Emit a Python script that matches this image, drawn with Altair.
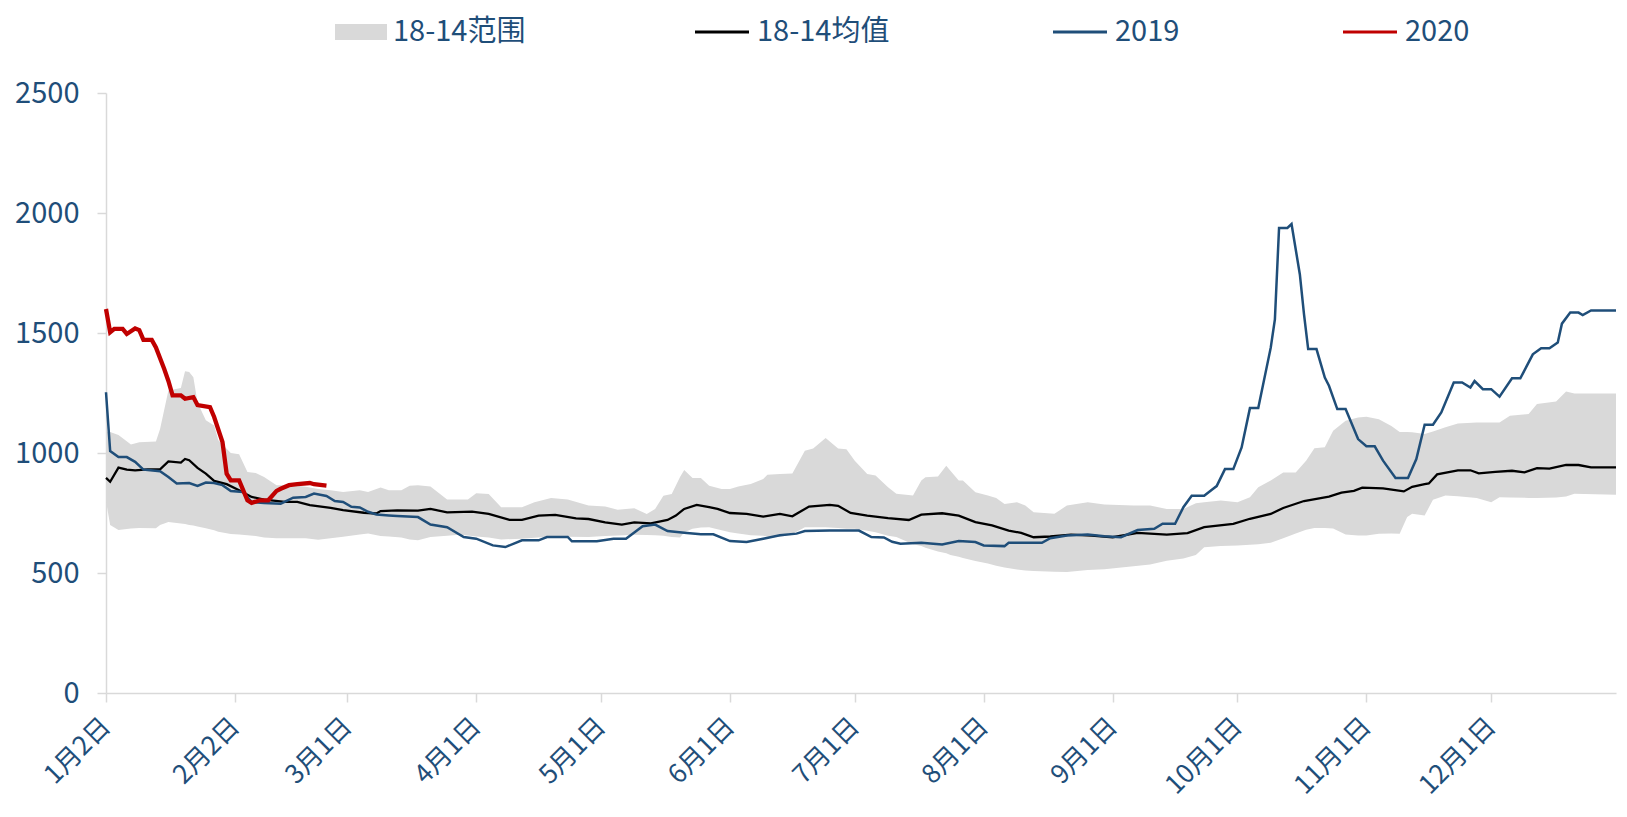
import json
import altair as alt
import pandas as pd

# ---------------- data (day offset from 1月2日) ----------------
band_days = [0, 1, 3, 6, 8, 12, 13, 15, 18, 19, 20, 21, 22, 24, 26, 27, 30, 32, 34, 36, 38, 41, 45, 48,
             51, 54, 57, 61, 63, 66, 68, 71, 73, 75, 78, 82, 85, 87, 89, 92, 95, 100, 103, 107, 111, 116,
             120, 123, 127, 130, 132, 134, 136, 138, 139, 141, 143, 145, 148, 150, 152, 155, 158, 159, 162,
             165, 168, 170, 173, 176, 178, 180, 183, 185, 188, 190, 194, 196, 197, 200, 202, 203, 205, 206,
             209, 212, 214, 216, 219, 221, 223, 228, 231, 236, 240, 247, 251, 255, 259, 262, 264, 268, 272,
             275, 277, 280, 283, 286, 288.5, 290.5, 293, 295, 298, 301, 303, 306, 309, 311, 312.8, 314, 317,
             319, 322, 325, 329.5, 333, 335, 337.5, 342, 344, 348.6, 351, 353, 363]
band_hi = [1090, 1087, 1075, 1035, 1045, 1048, 1100, 1260, 1271, 1341, 1337, 1316, 1210, 1136, 1115, 1053,
           1000, 995, 921, 917, 900, 866, 866, 859, 850, 845, 838, 845, 838, 856, 845, 845, 864, 866, 860,
           806, 806, 806, 832, 829, 774, 774, 795, 812, 806, 781, 777, 764, 770, 746, 767, 822, 829, 900,
           929, 896, 896, 864, 850, 850, 860, 871, 892, 909, 912, 915, 1009, 1019, 1062, 1019, 1016, 968,
           913, 906, 857, 830, 823, 885, 899, 902, 947, 926, 885, 885, 836, 823, 812, 788, 795, 781, 753,
           747, 781, 795, 785, 781, 781, 767, 767, 791, 795, 802, 795, 816, 857, 885, 919, 919, 968, 1020,
           1024, 1093, 1134, 1148, 1151, 1141, 1113, 1088, 1087, 1086, 1079, 1090, 1107, 1123, 1127, 1127,
           1127, 1155, 1162, 1204, 1215, 1256, 1248, 1248]
band_lo = [800, 700, 679, 685, 688, 686, 700, 712, 706, 704, 700, 698, 694, 686, 678, 672, 663, 660, 657,
           654, 648, 645, 645, 645, 639, 645, 651, 660, 665, 654, 652, 648, 640, 636, 650, 655, 659, 656,
           652, 648, 640, 643, 647, 652, 651, 650, 654, 656, 659, 658, 657, 655, 650, 648, 670, 684, 690,
           691, 678, 670, 665, 657, 655, 652, 650, 662, 691, 691, 691, 688, 684, 684, 676, 670, 655, 650,
           620, 612, 605, 590, 582, 575, 568, 562, 550, 540, 530, 523, 515, 510, 508, 505, 504, 513, 516,
           528, 535, 551, 560, 575, 607, 612, 615, 618, 620, 626, 645, 665, 680, 688, 688, 685, 660, 656,
           656, 664, 665, 664, 733, 747, 740, 805, 823, 820, 812, 795, 816, 815, 813, 813, 815, 819, 830, 826]

mean_days = [0, 1, 3, 5, 7, 10, 13, 15, 18, 19, 20, 22, 24, 26, 29, 32, 35, 38, 43, 46, 49, 54, 57, 62, 65,
             66, 70, 75, 78, 82, 88, 92, 97, 100, 104, 108, 113, 116, 120, 124, 127, 131, 135, 137, 139, 142,
             145, 147, 150, 154, 158, 162, 165, 169, 174, 176, 179, 183, 188, 193, 196, 201, 205, 209, 213,
             217, 220, 223, 227, 232, 237, 242, 248, 255, 260, 264, 271, 275, 280, 283, 288, 292, 294, 297,
             300, 302, 307, 312, 314, 317, 318, 320, 325, 328, 330, 334, 338, 341, 344, 347, 351, 354, 357, 363]
mean_vals = [896, 880, 939, 931, 928, 932, 932, 965, 960, 975, 970, 938, 914, 884, 870, 845, 817, 806, 796,
             796, 783, 771, 762, 751, 748, 758, 761, 760, 767, 753, 756, 746, 721, 721, 739, 742, 728, 725,
             711, 702, 711, 707, 721, 739, 767, 784, 774, 767, 750, 746, 735, 746, 736, 777, 784, 780, 750,
             739, 729, 721, 743, 749, 739, 712, 698, 677, 667, 649, 652, 660, 656, 649, 667, 660, 666, 691,
             705, 726, 746, 771, 800, 812, 818, 835, 842, 856, 853, 840, 859, 870, 873, 911, 928, 928, 915,
             921, 926, 919, 937, 935, 950, 950, 940, 940]

y2019_days = [0, 1, 3, 5, 7, 9, 13, 15, 17, 20, 22, 24, 26, 28, 30, 33, 35, 38, 42, 45, 48, 50, 53, 55, 57,
              59, 61, 63, 65, 68, 70, 75, 78, 82, 86, 89, 93, 96, 100, 104, 106, 111, 112, 118, 122, 125,
              129, 132, 135, 139, 143, 146, 150, 154, 158, 162, 166, 168, 174, 181, 184, 187, 189, 191, 196,
              201, 205, 209, 211, 216, 217, 225, 227, 231, 236, 240, 244, 248, 252, 254, 257, 259, 261, 264,
              266, 267, 269, 271, 273, 275, 277, 280, 281, 282, 284, 285, 287, 288, 289, 291, 293, 294, 296,
              298, 301, 303, 305, 307, 310, 313, 315, 317, 319, 321, 324, 326, 328, 329, 331, 333, 335, 338,
              340, 343, 345, 347, 349, 350, 352, 354, 355, 357, 363]
y2019_vals = [1253, 1008, 983, 983, 963, 931, 924, 900, 873, 875, 863, 877, 875, 866, 842, 838, 796, 792,
              789, 814, 817, 831, 821, 800, 796, 776, 773, 755, 744, 740, 738, 733, 702, 691, 650, 643, 615,
              608, 636, 636, 650, 650, 632, 632, 643, 643, 695, 702, 675, 668, 661, 661, 633, 629, 643, 657,
              664, 675, 677, 677, 650, 648, 630, 622, 626, 619, 633, 629, 615, 612, 626, 626, 645, 656, 660,
              653, 649, 679, 684, 705, 705, 774, 822, 822, 849, 862, 933, 933, 1023, 1187, 1187, 1439, 1557,
              1938, 1938, 1954, 1744, 1578, 1433, 1433, 1314, 1280, 1183, 1183, 1058, 1028, 1028, 968, 896,
              896, 975, 1118, 1118, 1169, 1294, 1294, 1273, 1300, 1266, 1266, 1235, 1311, 1311, 1411, 1436,
              1436, 1460, 1539, 1585, 1585, 1575, 1594, 1594]

y2020_days = [0, 1, 2, 4, 5, 7, 8, 9, 11, 12, 14, 15, 16, 18, 19, 21, 22, 25, 26, 28, 29, 30, 32, 34, 35,
              37, 39, 41, 42, 44, 46, 49, 50, 53]
y2020_vals = [1600, 1503, 1517, 1517, 1496, 1519, 1512, 1471, 1471, 1440, 1350, 1300, 1240, 1240, 1226,
              1233, 1200, 1191, 1150, 1046, 914, 886, 886, 803, 792, 803, 803, 842, 851, 866, 870, 875, 870,
              864]

tick_days = [0, 31, 58, 89, 119, 150, 180, 211, 242, 272, 303, 333]
tick_labels = ["1月2日", "2月2日", "3月1日", "4月1日", "5月1日", "6月1日", "7月1日", "8月1日",
               "9月1日", "10月1日", "11月1日", "12月1日"]
y_ticks = [0, 500, 1000, 1500, 2000, 2500]

band_name = "18-14范围"
line_names = ["18-14均值", "2019", "2020"]
line_colors = ["#000000", "#1F4E79", "#C00000"]
line_widths = [2.3, 2.5, 4.3]

FONT = "Noto Sans CJK SC"
TXT = "#1F4E79"
AXC = "#D9D9D9"

# ---------------- tables ----------------
band_df = pd.DataFrame({"day": band_days, "hi": band_hi, "lo": band_lo, "s": band_name})
line_dfs = [
    pd.DataFrame({"day": mean_days, "v": mean_vals, "series": line_names[0]}),
    pd.DataFrame({"day": y2019_days, "v": y2019_vals, "series": line_names[1]}),
    pd.DataFrame({"day": y2020_days, "v": y2020_vals, "series": line_names[2]}),
]

label_expr = "{}[indexof({}, datum.value)]".format(
    json.dumps(tick_labels, ensure_ascii=False), json.dumps(tick_days))

x_enc = alt.X("day:Q",
              scale=alt.Scale(domain=[0, 363], nice=False, zero=False),
              axis=alt.Axis(values=tick_days, labelExpr=label_expr, labelAngle=315,
                            labelAlign="right", labelBaseline="middle", labelPadding=20,
                            labelFontSize=26, labelFont=FONT, labelColor=TXT,
                            title=None, grid=False))
y_axis = alt.Axis(values=y_ticks, format="d", labelFontSize=29, labelFont=FONT, labelColor=TXT,
                  labelPadding=18, title=None, grid=False)
y_scale = alt.Scale(domain=[0, 2500], nice=False)

color_scale = alt.Scale(domain=line_names, range=line_colors)

band = alt.Chart(band_df).mark_area(opacity=1, interpolate="linear").encode(
    x=x_enc,
    y=alt.Y("hi:Q", scale=y_scale, axis=y_axis),
    y2="lo:Q",
    fill=alt.Fill("s:N", scale=alt.Scale(domain=[band_name], range=["#D9D9D9"]),
                  legend=alt.Legend(orient="none", legendX=229, legendY=-87, title=None,
                                    direction="horizontal",
                                    symbolType="M-1,-0.31H1V0.31H-1Z", symbolSize=2704,
                                    symbolStrokeWidth=0, symbolOpacity=1,
                                    labelFontSize=29, labelFont=FONT, labelColor=TXT,
                                    labelOffset=6)),
)

layers = [band]
for i, df in enumerate(line_dfs):
    if i == 0:
        legend = alt.Legend(orient="none", legendX=587, legendY=-90, title=None,
                            direction="horizontal", symbolType="stroke", symbolSize=2916,
                            symbolStrokeWidth=3.2, labelFontSize=29, labelFont=FONT,
                            labelColor=TXT, labelOffset=6, columnPadding=156)
        color = alt.Color("series:N", scale=color_scale, legend=legend)
    else:
        color = alt.Color("series:N", scale=color_scale)
    layers.append(
        alt.Chart(df).mark_line(strokeWidth=line_widths[i], interpolate="linear").encode(
            x=x_enc,
            y=alt.Y("v:Q", scale=y_scale, axis=y_axis),
            color=color,
        )
    )

chart = alt.layer(*layers).properties(
    width=1510, height=600,
    padding={"left": 98, "top": 85, "right": 2, "bottom": 110},
    autosize=alt.AutoSizeParams(type="none"),
).configure_view(stroke=None).configure_axis(
    domainColor=AXC, domainWidth=1.5, tickColor=AXC, tickWidth=1.5, tickSize=9,
    labelColor=TXT, labelFont=FONT,
)

chart.save("out.html", embed_options={"renderer": "svg", "actions": False})
